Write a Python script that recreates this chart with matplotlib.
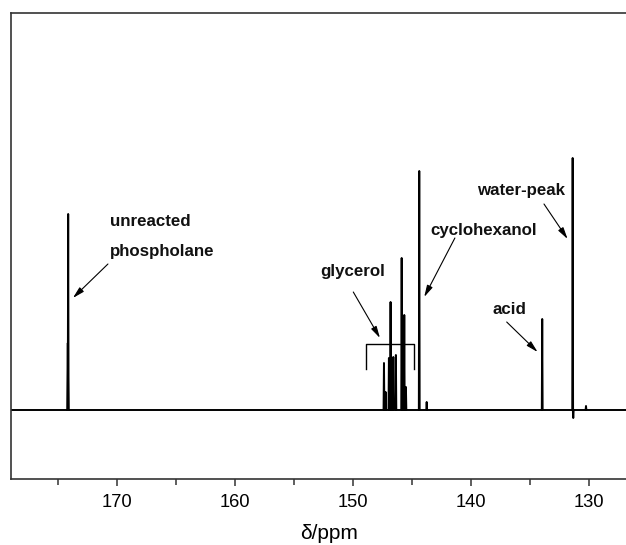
import matplotlib.pyplot as plt

# peak positions (ppm) and heights (a.u., baseline = 0)
peak_ppm = [174.16, 174.13,
            147.37, 147.23, 146.95, 146.81, 146.58, 146.36, 145.87, 145.65, 145.51,
            144.38, 143.75,
            133.96,
            131.38, 131.33, 130.25]
peak_height = [67, 196,
               47, 18, 52, 108, 53, 55, 152, 95, 23,
               239, 8,
               91,
               252, -8, 4]

# labels: text, x (ppm), y (a.u.)
labels = ['unreacted', 'phospholane', 'cyclohexanol', 'water-peak', 'acid']
label_x = [170.59, 170.59, 143.42, 139.47, 138.16]
label_y = [188, 158, 179, 219, 100]

# arrows: tail (x, y) -> head (x, y)
arrow_tail = [(170.76, 146), (149.97, 118), (141.36, 172), (133.81, 206), (136.97, 88)]
arrow_head = [(173.73, 112), (147.71, 72), (143.96, 113), (131.81, 171), (134.35, 58)]

# glycerol bracket
bracket_x = [148.90, 148.90, 144.81, 144.81]
bracket_y = [41, 66, 66, 41]

# build stick spectrum from the peak list
hw = 0.035
x, y = [179.5], [0]
for p, h in sorted(zip(peak_ppm, peak_height), reverse=True):
    x += [p + hw, p, p - hw]
    y += [0, h, 0]
x.append(125.5)
y.append(0)

fig = plt.figure(figsize=(6.26, 5.45), dpi=100)
ax = fig.add_axes([0.0171, 0.1211, 0.9929, 0.8545])

ax.plot(x, y, color='black', linewidth=1.4)
ax.plot(bracket_x, bracket_y, color='black', linewidth=1.0)

for t, lx, ly in zip(labels, label_x, label_y):
    ax.text(lx, ly, t, fontsize=12.2, fontweight='bold', family='Liberation Sans',
            ha='left', va='center', color='#111111')
ax.text(150.0, 138, 'glycerol', fontsize=12.2, fontweight='bold', family='Liberation Sans',
        ha='center', va='center', color='#111111')

for tail, head in zip(arrow_tail, arrow_head):
    ax.annotate('', xy=head, xytext=tail,
                arrowprops=dict(arrowstyle='-|>,head_length=0.7,head_width=0.18',
                                color='black', lw=0.8, shrinkA=0, shrinkB=0))

ax.set_xlim(179.0, 126.33)
ax.set_ylim(-69, 396.7)
ax.set_xticks([170, 160, 150, 140, 130])
ax.set_xticks([175, 165, 155, 145, 135], minor=True)
ax.set_yticks([])
ax.tick_params(axis='x', which='major', direction='out', length=5, width=1.1,
               pad=5.5, labelsize=13.2, colors='#333333', labelcolor='black')
ax.tick_params(axis='x', which='minor', direction='out', length=4, width=1.1,
               colors='#333333')
for lab in ax.get_xticklabels():
    lab.set_family('Liberation Sans')
for s in ax.spines.values():
    s.set_color('#333333')
    s.set_linewidth(1.2)

ax.set_xlabel('δ/ppm', fontsize=15, family='Liberation Sans', va='center')
ax.xaxis.set_label_coords(0.512, -0.116)

fig.savefig('out.png', dpi=100)
